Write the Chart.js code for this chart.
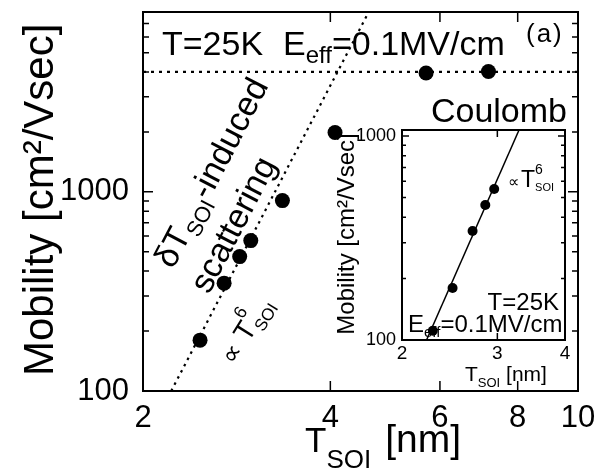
<!DOCTYPE html>
<html>
<head>
<meta charset="utf-8">
<script src="https://cdn.jsdelivr.net/npm/chart.js@4.4.1/dist/chart.umd.min.js"></script>
<style>
  html,body{margin:0;padding:0;background:#fff;}
  #wrap{position:relative;width:598px;height:473px;}
  #main{position:absolute;left:0;top:0;}
  #inset{position:absolute;left:320px;top:118px;}
</style>
</head>
<body>
<div id="wrap">
  <canvas id="main" width="598" height="473"></canvas>
  <canvas id="inset" width="255" height="272"></canvas>
</div>
<script>
// main panel data (T_SOI in nm, mobility in cm2/Vsec)
const mainX = [2.47, 2.70, 2.86, 2.98, 3.35, 4.07, 5.70, 7.18];
const mainY = [180, 348, 473, 569, 904, 1986, 3950, 4020];
// dotted T^6 guide and Coulomb level
const guideX = [2.22, 4.61];
const guideY = [100, 8000];
const coulombX = [2, 10];
const coulombY = [4000, 4000];
// inset data
const insetX = [2.28, 2.48, 2.70, 2.85, 2.96];
const insetY = [111, 180, 342, 459, 550];
const insetFitX = [2.22, 3.29];
const insetFitY = [100, 1070];
// ticks
const xTicks = [2, 4, 6, 8, 10];
const yTicks = [100,200,300,400,500,600,700,800,900,1000,2000,3000,4000,5000,6000,7000,8000];
const yLabels = [100, 1000];
const insetXTicks = [2, 3, 4];
const insetYTicks = [100,200,300,400,500,600,700,800,900,1000];
const insetYLabels = [100, 1000];

const FONT = "'Liberation Sans', Arial, Helvetica, sans-serif";
const INSET_LEFT = 320, INSET_TOP = 118;

const pts = (xs, ys) => xs.map((x, i) => ({x: x, y: ys[i]}));

// draw a run of text pieces (sub/superscripts) along a rotated baseline
function rich(ctx, parts, x, y, rot, align){
  ctx.save();
  ctx.translate(x, y);
  ctx.rotate((rot || 0) * Math.PI / 180);
  ctx.textBaseline = 'alphabetic';
  ctx.textAlign = 'left';
  ctx.fillStyle = '#000';
  let total = 0;
  parts.forEach(p => {
    ctx.font = p.s + 'px ' + FONT;
    p._w = ctx.measureText(p.t).width;
    if (p.adv !== false) total += p._w + (p.gap || 0);
  });
  let cx = align === 'right' ? -total : align === 'center' ? -total / 2 : 0;
  parts.forEach(p => {
    ctx.font = p.s + 'px ' + FONT;
    ctx.fillText(p.t, cx, p.dy || 0);
    if (p.adv !== false) cx += p._w + (p.gap || 0);
  });
  ctx.restore();
}

// box + inward ticks on all four sides
function frameTicks(chart, minorLen, majorLen, majors){
  const {ctx, chartArea: a, scales: {x, y}} = chart;
  ctx.save();
  ctx.strokeStyle = '#000';
  ctx.lineWidth = 2;
  ctx.strokeRect(a.left, a.top, a.right - a.left, a.bottom - a.top);
  ctx.lineWidth = 1.5;
  ctx.beginPath();
  x.ticks.forEach(t => {
    const px = x.getPixelForValue(t.value);
    ctx.moveTo(px, a.bottom); ctx.lineTo(px, a.bottom - majorLen);
    ctx.moveTo(px, a.top); ctx.lineTo(px, a.top + majorLen);
  });
  y.ticks.forEach(t => {
    const py = y.getPixelForValue(t.value);
    const l = majors.includes(t.value) ? majorLen : minorLen;
    ctx.moveTo(a.left, py); ctx.lineTo(a.left + l, py);
    ctx.moveTo(a.right, py); ctx.lineTo(a.right - l, py);
  });
  ctx.stroke();
  ctx.restore();
}

// keep the plot box where the axes put it: no extra room for edge labels
const noPadY = s => { s.paddingTop = 0; s.paddingBottom = 0; };
const noPadX = s => { s.paddingLeft = 0; s.paddingRight = 0; };

const mainDecor = {
  id: 'mainDecor',
  afterDraw(chart){
    const ctx = chart.ctx;
    frameTicks(chart, 6, 10, yLabels);
    rich(ctx, [{t:'T=25K', s:34}], 162, 55, 0);
    rich(ctx, [{t:'E', s:34}, {t:'eff', s:24, dy:8}, {t:'=0.1MV/cm', s:34}], 283, 55, 0);
    rich(ctx, [{t:'(', s:26, gap:2}, {t:'a', s:26, gap:2}, {t:')', s:26}], 526, 42, 0);
    rich(ctx, [{t:'Coulomb', s:34}], 567, 122, 0, 'right');
    rich(ctx, [{t:'\u03b4T', s:34}, {t:'SOI', s:22, dy:8}, {t:'-induced', s:34}], 173, 270, -62.5);
    rich(ctx, [{t:'scattering', s:34}], 209, 295, -62.5);
    rich(ctx, [{t:'\u221d', s:26}, {t:' T', s:28}, {t:'6', s:18, dy:-17, adv:false}, {t:'SOI', s:17, dy:7}], 234, 366, -58);
    rich(ctx, [{t:'Mobility [cm\u00b2/Vsec]', s:42}], 53, 376, -90);
    rich(ctx, [{t:'T', s:35}, {t:'SOI', s:26, dy:16, gap:14}, {t:'[nm]', s:39}], 305, 452, 0);
  }
};

const insetDecor = {
  id: 'insetDecor',
  afterDraw(chart){
    const ctx = chart.ctx;
    frameTicks(chart, 4, 7, insetYLabels);
    ctx.save();
    ctx.translate(-INSET_LEFT, -INSET_TOP);
    rich(ctx, [{t:'Mobility [cm\u00b2/Vsec]', s:24}], 354, 234, -90, 'center');
    rich(ctx, [{t:'T', s:21}, {t:'SOI', s:13, dy:6}, {t:' [nm]', s:21}], 465, 381, 0);
    rich(ctx, [{t:'\u221d', s:16, gap:2}, {t:'T', s:23}, {t:'6', s:14, dy:-13, adv:false}, {t:'SOI', s:11, dy:4}], 508, 187, 0);
    rich(ctx, [{t:'T=25K', s:24}], 559, 310, 0, 'right');
    rich(ctx, [{t:'E', s:24}, {t:'eff', s:15, dy:5}, {t:'=0.1MV/cm', s:24}], 408, 332, 0);
    ctx.restore();
  }
};

new Chart(document.getElementById('main'), {
  type: 'scatter',
  data: {
    datasets: [
      {data: pts(guideX, guideY), showLine: true, borderColor: '#000', borderWidth: 2.2,
       borderDash: [2.5, 4.5], pointRadius: 0},
      {data: pts(coulombX, coulombY), showLine: true, borderColor: '#000', borderWidth: 2.2,
       borderDash: [3, 5], pointRadius: 0},
      {data: pts(mainX, mainY), pointRadius: 7.5, backgroundColor: '#000', borderColor: '#000',
       borderWidth: 0}
    ]
  },
  options: {
    responsive: false,
    animation: false,
    layout: {padding: {top: 12, right: 20, left: 0, bottom: 0}},
    plugins: {legend: {display: false}, tooltip: {enabled: false}},
    scales: {
      x: {
        type: 'logarithmic', min: 2, max: 10,
        afterBuildTicks: s => { s.ticks = xTicks.map(v => ({value: v})); },
        afterFit: s => { s.height = 82; noPadX(s); },
        grid: {display: false, drawTicks: false},
        border: {display: false},
        ticks: {autoSkip: false, maxRotation: 0, padding: 9, color: '#000',
                font: {family: FONT, size: 31}, callback: v => String(v)}
      },
      y: {
        type: 'logarithmic', min: 100, max: 8000,
        afterBuildTicks: s => { s.ticks = yTicks.map(v => ({value: v})); },
        afterFit: s => { s.width = 143; noPadY(s); },
        grid: {display: false, drawTicks: false},
        border: {display: false},
        ticks: {autoSkip: false, padding: 14, color: '#000',
                font: {family: FONT, size: 31},
                callback: v => yLabels.includes(v) ? String(v) : ''}
      }
    }
  },
  plugins: [mainDecor]
});

new Chart(document.getElementById('inset'), {
  type: 'scatter',
  data: {
    datasets: [
      {data: pts(insetFitX, insetFitY), showLine: true, borderColor: '#000', borderWidth: 1.5,
       pointRadius: 0},
      {data: pts(insetX, insetY), pointRadius: 5, backgroundColor: '#000', borderColor: '#000',
       borderWidth: 0}
    ]
  },
  options: {
    responsive: false,
    animation: false,
    layout: {padding: {top: 12, right: 10, left: 0, bottom: 0}},
    plugins: {legend: {display: false}, tooltip: {enabled: false}},
    scales: {
      x: {
        type: 'logarithmic', min: 2, max: 4,
        afterBuildTicks: s => { s.ticks = insetXTicks.map(v => ({value: v})); },
        afterFit: s => { s.height = 50; noPadX(s); },
        grid: {display: false, drawTicks: false},
        border: {display: false},
        ticks: {autoSkip: false, maxRotation: 0, padding: 2, color: '#000',
                font: {family: FONT, size: 19}, callback: v => String(v)}
      },
      y: {
        type: 'logarithmic', min: 100, max: 1070,
        afterBuildTicks: s => { s.ticks = insetYTicks.map(v => ({value: v})); },
        afterFit: s => { s.width = 82; noPadY(s); },
        grid: {display: false, drawTicks: false},
        border: {display: false},
        ticks: {autoSkip: false, padding: 6, color: '#000',
                font: {family: FONT, size: 18},
                callback: v => insetYLabels.includes(v) ? String(v) : ''}
      }
    }
  },
  plugins: [insetDecor]
});
</script>
</body>
</html>
